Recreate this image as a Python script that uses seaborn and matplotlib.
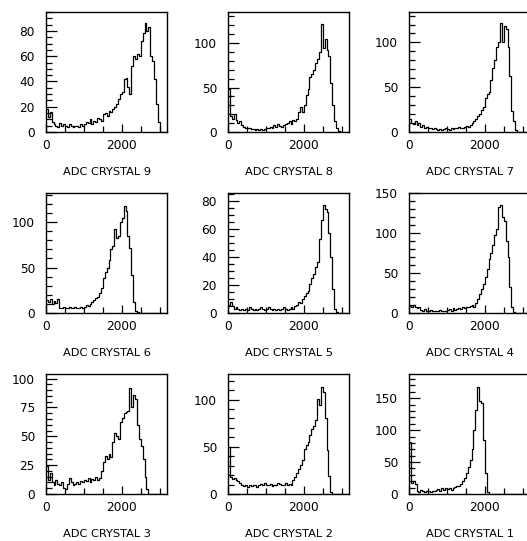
import numpy as np
import pandas as pd
import matplotlib
matplotlib.use("Agg")
import matplotlib.pyplot as plt
import seaborn as sns
from matplotlib.ticker import MultipleLocator

sns.set_style("white")
plt.rcParams["font.family"] = ["DejaVu Sans"]

# bin edges: 50 ADC-count bins from 0 to 3150
bin_width = 50
n_bins = 63

crystal_9 = [18, 12, 16, 8, 6, 5, 4, 7, 5, 6,
             5, 4, 6, 5, 4, 5, 5, 4, 6, 5,
             6, 8, 7, 10, 6, 9, 8, 11, 10, 9,
             14, 15, 13, 17, 16, 18, 20, 22, 26, 30,
             32, 42, 43, 36, 30, 52, 60, 58, 62, 60,
             72, 78, 86, 80, 83, 60, 56, 42, 22, 8,
             0, 0, 0]
crystal_8 = [48, 18, 15, 20, 14, 10, 12, 8, 6, 5,
             4, 4, 3, 3, 2, 3, 2, 3, 2, 3,
             4, 5, 6, 5, 8, 6, 9, 7, 6, 8,
             9, 10, 12, 9, 14, 12, 15, 22, 28, 22,
             30, 42, 48, 62, 65, 70, 78, 82, 90, 122,
             95, 105, 92, 85, 55, 30, 12, 4, 1, 0,
             0, 0, 0]
crystal_7 = [14, 10, 9, 12, 8, 10, 6, 8, 5, 6,
             4, 5, 3, 4, 3, 2, 3, 2, 3, 4,
             3, 2, 4, 3, 5, 4, 6, 5, 4, 6,
             7, 6, 8, 10, 12, 15, 18, 20, 25, 28,
             38, 42, 45, 58, 72, 80, 95, 100, 122, 100,
             118, 115, 95, 62, 24, 12, 2, 0, 0, 0,
             0, 0, 0]
crystal_6 = [14, 12, 15, 10, 13, 11, 15, 6, 5, 7,
             6, 5, 7, 6, 5, 7, 6, 6, 7, 5,
             7, 9, 8, 10, 12, 14, 16, 18, 22, 28,
             38, 45, 50, 58, 70, 74, 92, 82, 85, 100,
             105, 118, 112, 85, 72, 42, 12, 2, 1, 0,
             0, 0, 0, 0, 0, 0, 0, 0, 0, 0,
             0, 0, 0]
crystal_5 = [6, 8, 5, 3, 4, 3, 2, 3, 2, 3,
             2, 4, 3, 2, 3, 2, 3, 4, 3, 2,
             3, 4, 3, 2, 3, 2, 3, 2, 3, 4,
             3, 2, 3, 4, 3, 5, 6, 8, 7, 10,
             12, 14, 16, 21, 25, 28, 33, 36, 53, 66,
             77, 74, 72, 57, 40, 17, 3, 1, 0, 0,
             0, 0, 0]
crystal_4 = [9, 7, 10, 8, 6, 7, 4, 3, 5, 2,
             3, 4, 2, 3, 2, 3, 4, 2, 3, 3,
             4, 5, 3, 6, 4, 5, 6, 5, 7, 6,
             8, 7, 9, 10, 8, 12, 18, 24, 30, 36,
             45, 55, 68, 75, 85, 98, 105, 132, 135, 120,
             115, 90, 70, 33, 8, 1, 0, 0, 0, 0,
             0, 0, 0]
crystal_3 = [24, 12, 18, 10, 8, 12, 9, 8, 10, 5,
             4, 9, 14, 10, 8, 9, 10, 9, 11, 10,
             12, 11, 14, 10, 13, 12, 15, 12, 14, 20,
             28, 33, 30, 35, 32, 45, 53, 50, 48, 62,
             66, 70, 71, 72, 92, 75, 86, 82, 60, 48,
             42, 30, 15, 4, 0, 0, 0, 0, 0, 0,
             0, 0, 0]
crystal_2 = [50, 18, 16, 17, 15, 14, 12, 10, 8, 10,
             7, 9, 8, 10, 9, 7, 10, 11, 9, 12,
             10, 9, 11, 8, 10, 9, 12, 11, 10, 9,
             12, 10, 11, 9, 15, 18, 22, 26, 31, 36,
             48, 52, 55, 62, 69, 72, 78, 101, 94, 113,
             108, 80, 47, 19, 2, 0, 0, 0, 0, 0,
             0, 0, 0]
crystal_1 = [82, 18, 20, 15, 5, 3, 6, 4, 3, 5,
             4, 3, 5, 4, 6, 8, 5, 9, 7, 10,
             8, 9, 7, 10, 11, 13, 12, 16, 20, 25,
             33, 42, 54, 70, 100, 132, 168, 145, 142, 85,
             33, 3, 0, 0, 0, 0, 0, 0, 0, 0,
             0, 0, 0, 0, 0, 0, 0, 0, 0, 0,
             0, 0, 0]

labels = ["ADC CRYSTAL 9", "ADC CRYSTAL 8", "ADC CRYSTAL 7",
          "ADC CRYSTAL 6", "ADC CRYSTAL 5", "ADC CRYSTAL 4",
          "ADC CRYSTAL 3", "ADC CRYSTAL 2", "ADC CRYSTAL 1"]
series = [crystal_9, crystal_8, crystal_7,
          crystal_6, crystal_5, crystal_4,
          crystal_3, crystal_2, crystal_1]
y_max = [95, 135, 134, 132, 85.5, 150, 104, 127, 188]
y_major = [20, 50, 50, 50, 20, 50, 25, 50, 50]
y_minor = [5, 10, 10, 10, 5, 10, 5, 10, 10]

edges = [k * bin_width for k in range(n_bins + 1)]
centers = [e + bin_width / 2 for e in edges[:-1]]

W, H = 527, 541
fig = plt.figure(figsize=(W / 100, H / 100), dpi=100)
fig.patch.set_facecolor("white")

col_left = [46, 228, 409]
row_top = [12, 193, 374]
ax_w, ax_h = 121.3, 120

for i in range(9):
    r, c = divmod(i, 3)
    left = col_left[c] / W
    bottom = 1 - (row_top[r] + ax_h) / H
    ax = fig.add_axes([left, bottom, ax_w / W, ax_h / H])
    df = pd.DataFrame({"adc": centers, "count": series[i]})
    sns.histplot(data=df, x="adc", weights="count", bins=edges,
                 element="step", fill=False, color="black",
                 linewidth=0.9, ax=ax)
    ax.set_xlim(0, 3200)
    ax.set_ylim(0, y_max[i])
    ax.set_xlabel("")
    ax.set_ylabel("")
    ax.xaxis.set_major_locator(MultipleLocator(2000))
    ax.xaxis.set_minor_locator(MultipleLocator(500))
    ax.yaxis.set_major_locator(MultipleLocator(y_major[i]))
    ax.yaxis.set_minor_locator(MultipleLocator(y_minor[i]))
    ax.tick_params(axis="both", which="both", direction="in",
                   bottom=True, left=True, top=False, right=False,
                   colors="black", width=0.9)
    ax.tick_params(axis="y", which="major", length=8, pad=8, labelsize=8.7)
    ax.tick_params(axis="y", which="minor", length=4)
    ax.tick_params(axis="x", which="major", length=6, pad=5, labelsize=8.7)
    ax.tick_params(axis="x", which="minor", length=4)
    for s in ax.spines.values():
        s.set_color("black")
        s.set_linewidth(1.0)
        s.set_visible(True)
    ax.text(0.5, -40 / ax_h, labels[i], transform=ax.transAxes,
            ha="center", va="center", fontsize=8.2, color="black")

fig.savefig("out.png", dpi=100, facecolor="white")
